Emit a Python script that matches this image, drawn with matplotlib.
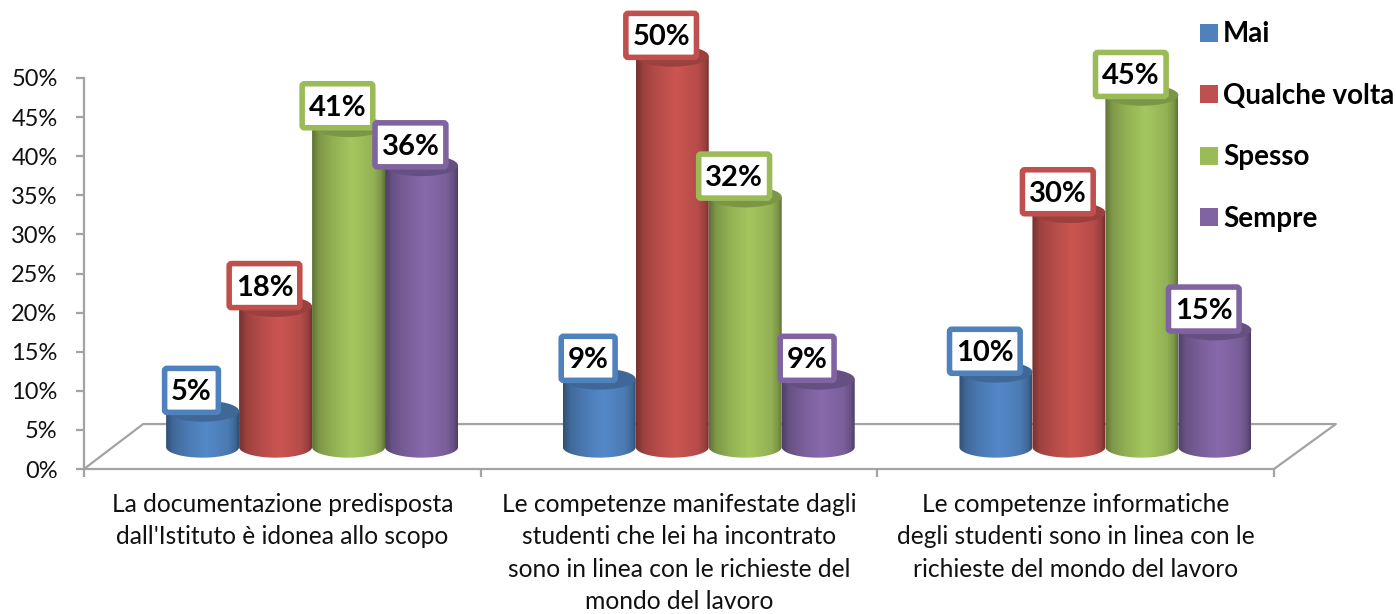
import numpy as np
import matplotlib
matplotlib.use("Agg")
import matplotlib.pyplot as plt
from matplotlib.patches import BoxStyle, Ellipse, Patch, PathPatch
from matplotlib.path import Path
from matplotlib.colors import to_rgb

plt.rcParams['font.family'] = ['Lato', 'DejaVu Sans']

categories = ["La documentazione predisposta\ndall'Istituto è idonea allo scopo",
              "Le competenze manifestate dagli\nstudenti che lei ha incontrato\nsono in linea con le richieste del\nmondo del lavoro",
              "Le competenze informatiche\ndegli studenti sono in linea con le\nrichieste del mondo del lavoro"]
series_names = ["Mai", "Qualche volta", "Spesso", "Sempre"]
mai = [4.6, 8.7, 9.6]
qualche_volta = [18, 50, 30]
spesso = [41, 32, 45]
sempre = [36, 8.7, 15]
colors = ["#4F81BD", "#C0504D", "#9BBB59", "#8064A2"]
yticks = [0, 5, 10, 15, 20, 25, 30, 35, 40, 45, 50]

W, H = 1396, 614
GRAY = "#A3A3A3"

fig = plt.figure(figsize=(W / 100, H / 100), dpi=100)
# axes box: 0% at y=469, 50% at y=78, first tick x=84, last x=1274
ax = fig.add_axes([84 / W, (H - 469) / H, (1274 - 84) / W, (469 - 78) / H])
ax.patch.set_alpha(0)

rounded = BoxStyle("round", pad=0, rounding_size=0.08)


def label_box(x0, y0, width, height, mutation_size):
    # same height for every label, width follows the text
    yc = y0 + height / 2 + 2
    return rounded(x0 - 6.5, yc - 22, width + 13, 44, mutation_size)


def shade(col, k):
    return tuple(min(1, c * k) for c in to_rgb(col))


def cylinder(x0, w, base, top, col, z):
    xc = x0 + w / 2
    ry = 1.35
    t = np.linspace(np.pi, 2 * np.pi, 40)
    # body outline: round the bottom, then up and across the top
    xs = np.concatenate([xc + w / 2 * np.cos(t), [x0 + w, x0]])
    ys = np.concatenate([base + ry * np.sin(t), [top, top]])
    clip = PathPatch(Path(np.column_stack([xs, ys])), transform=ax.transData, fc="none", ec="none")
    ax.add_patch(clip)
    # left to right shading
    u = np.linspace(0, 1, 100)
    k = np.interp(u, [0, 0.1, 0.3, 0.55, 0.85, 0.95, 1], [0.62, 0.82, 0.95, 1.06, 0.95, 0.8, 0.62])
    img = np.array([[shade(col, a) for a in k]])
    im = ax.imshow(img, extent=[x0, x0 + w, base - ry, top], aspect="auto",
                   interpolation="bilinear", zorder=z)
    im.set_clip_path(clip)
    im.set_clip_box(fig.bbox)
    cap = Ellipse((xc, top), w, 2 * ry, fc=shade(col, 0.8), ec="none", zorder=z + 0.1, clip_on=False)
    ax.add_patch(cap)


values = [mai, qualche_volta, spesso, sempre]
bar_w = 0.184
group_center = 0.575
base_val = 2.8

# floor of the 3d box
ax.plot([0, 0.149, 3.156, 3], [0, 5.75, 5.75, 0], color=GRAY, lw=1.6, clip_on=False, zorder=1)

for s, vals in enumerate(values):
    for g, v in enumerate(vals):
        x0 = g + group_center + (s - 2) * bar_w
        cylinder(x0, bar_w, base_val, base_val + v, colors[s], 2 + s)
for s, vals in enumerate(values):
    for g, v in enumerate(vals):
        x0 = g + group_center + (s - 2) * bar_w
        ax.annotate(f"{round(v)}%", (x0 + bar_w / 2, base_val + v), xytext=(-8, 13.5), textcoords="offset points",
                    ha="center", va="center", fontsize=21, fontweight="bold", color="black", zorder=20,
                    annotation_clip=False,
                    bbox=dict(boxstyle=label_box, fc="white", ec=colors[s], lw=4))

ax.set_xlim(0, 3)
ax.set_ylim(0, 50)
ax.set_yticks(yticks)
ax.set_yticklabels([f"{y}%" for y in yticks], fontsize=17, color="#111111")
ax.set_xticks([0, 1, 2, 3])
ax.set_xticklabels([])
ax.set_xticks([0.5, 1.5, 2.5], minor=True)
ax.set_xticklabels(categories, minor=True, fontsize=17.7, color="#111111", linespacing=1.5)
ax.tick_params(axis="x", which="minor", length=0, pad=17)
ax.tick_params(axis="both", which="major", length=6, width=1.6, color=GRAY)
ax.tick_params(axis="y", which="major", pad=13)
for side in ["top", "right"]:
    ax.spines[side].set_visible(False)
for side in ["left", "bottom"]:
    ax.spines[side].set_color(GRAY)
    ax.spines[side].set_linewidth(1.6)
    ax.spines[side].set_zorder(1)

handles = [Patch(fc=c, ec="none") for c in colors]
fig.legend(handles, series_names, loc="upper left", bbox_to_anchor=(1192 / W, (H - 13) / H),
           frameon=False, prop=dict(size=20, weight="bold"), handlelength=0.62, handleheight=0.62,
           handletextpad=0.2, labelspacing=1.28, borderpad=0.3, borderaxespad=0, labelcolor="black")

fig.savefig("out.png", dpi=100)
